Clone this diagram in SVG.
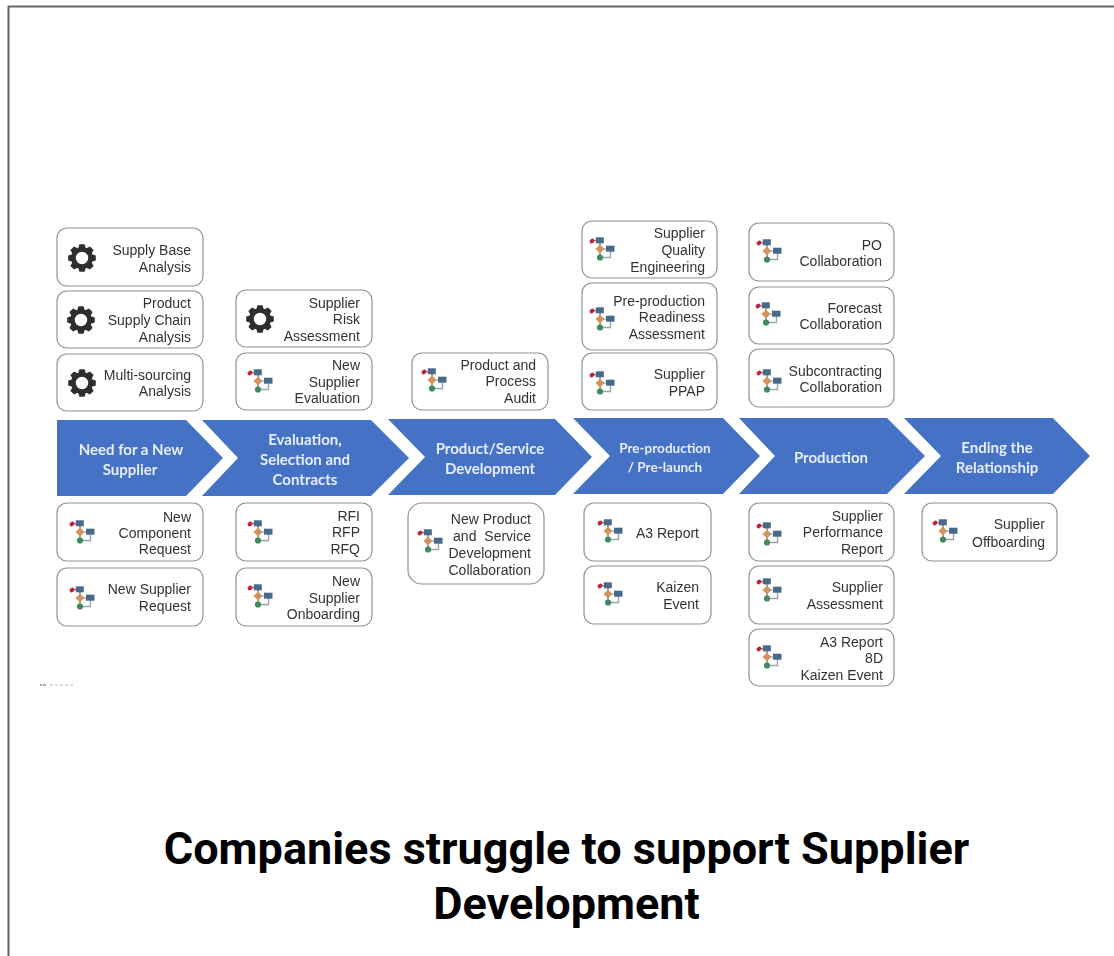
<svg xmlns="http://www.w3.org/2000/svg" width="1114" height="956" viewBox="0 0 1114 956">
<style>
.box{fill:#fff;stroke:#929292;stroke-width:1.2}
.t{font-family:"Liberation Sans",Arial,sans-serif;font-size:14px;fill:#333;text-anchor:end}
.chev{fill:#4472c4}
.a{font-family:Lato,"Open Sans",sans-serif;font-weight:700;font-size:15px;fill:#e6edf8;text-anchor:middle}
.title{font-family:Roboto,sans-serif;font-weight:700;font-size:45px;fill:#000;text-anchor:middle}
</style>
<defs>
<filter id="soft" x="-5%" y="-5%" width="110%" height="110%"><feGaussianBlur stdDeviation="0.45"/></filter>
<g id="gear" fill="#2e2e2e">
<circle r="8.500" fill="none" stroke="#2e2e2e" stroke-width="4.600"/>
<path id="tooth" d="M-3.800-9.500L-2.600-13.800H2.600L3.800-9.500Z"/>
<path d="M-3.800-9.500L-2.600-13.800H2.600L3.800-9.500Z" transform="rotate(45)"/>
<path d="M-3.800-9.500L-2.600-13.800H2.600L3.800-9.500Z" transform="rotate(90)"/>
<path d="M-3.800-9.500L-2.600-13.800H2.600L3.800-9.500Z" transform="rotate(135)"/>
<path d="M-3.800-9.500L-2.600-13.800H2.600L3.800-9.500Z" transform="rotate(180)"/>
<path d="M-3.800-9.500L-2.600-13.800H2.600L3.800-9.500Z" transform="rotate(225)"/>
<path d="M-3.800-9.500L-2.600-13.800H2.600L3.800-9.500Z" transform="rotate(270)"/>
<path d="M-3.800-9.500L-2.600-13.800H2.600L3.800-9.500Z" transform="rotate(315)"/>
</g>
<g id="flow">
<path d="M0-8V8" fill="none" stroke="#a08a6a" stroke-width="1.600"/>
<path d="M3 8.500H10.500V2" fill="none" stroke="#9aa5ad" stroke-width="1.400"/>
<path d="M-8-8L-3-8.500" stroke="#c9404a" stroke-width="1.200"/>
<ellipse cx="-8" cy="-8" rx="2.600" ry="2.100" fill="#b8283a" transform="rotate(-35 -8 -8)"/>
<rect x="-4.200" y="-11.700" width="8" height="6" fill="#47698a"/>
<path d="M0-4.300L4.600 0 0 4.300-4.600 0Z" fill="#d2935c"/>
<path d="M3 0H7" stroke="#9aa5ad" stroke-width="1.200"/>
<rect x="6" y="-3.300" width="8.500" height="6" fill="#47698a"/>
<circle cx="0" cy="8.500" r="3.100" fill="#3f8a5f"/>
</g>
</defs>
<rect width="1114" height="956" fill="#fff"/>
<path id="frame" d="M1114 6.500H8.500V956" fill="none" stroke="#666" stroke-width="2"/>
<g id="connectors"/>
<g filter="url(#soft)">
<g id="stage1"><path class="chev" d="M57 420H186L223 458 186 496H57Z"/><text class="a" x="131" y="455">Need for a New</text><text class="a" x="130" y="475">Supplier</text></g>
<g id="stage2"><path class="chev" d="M202 420H371L409 458 371 496H202L238 458Z"/><text class="a" x="305" y="445">Evaluation,</text><text class="a" x="305" y="465">Selection and</text><text class="a" x="305" y="485">Contracts</text></g>
<g id="stage3"><path class="chev" d="M388 419H555L592 457 555 495H388L425 457Z"/><text class="a" x="490" y="454">Product/Service</text><text class="a" x="490" y="474">Development</text></g>
<g id="stage4"><path class="chev" d="M573 418H723L760 456 723 494H573L610 456Z"/><text class="a" x="665" y="453" style="font-size:13.500px">Pre-production</text><text class="a" x="665" y="472" style="font-size:13.500px">/ Pre-launch</text></g>
<g id="stage5"><path class="chev" d="M739 418H887L925 456 887 494H739L775 456Z"/><text class="a" x="831" y="463">Production</text></g>
<g id="stage6"><path class="chev" d="M904 418H1053L1090 456 1053 494H904L941 456Z"/><text class="a" x="997" y="453">Ending the</text><text class="a" x="997" y="473">Relationship</text></g>

<g id="n1"><rect class="box" x="57" y="228" width="146" height="58" rx="10"/><use href="#gear" x="82" y="258"/><text class="t" x="191" y="255">Supply Base</text><text class="t" x="191" y="272">Analysis</text></g>
<g id="n2"><rect class="box" x="57" y="291" width="146" height="57" rx="10"/><use href="#gear" x="81" y="320"/><text class="t" x="191" y="308">Product</text><text class="t" x="191" y="325">Supply Chain</text><text class="t" x="191" y="342">Analysis</text></g>
<g id="n3"><rect class="box" x="57" y="354" width="146" height="57" rx="10"/><use href="#gear" x="82" y="383"/><text class="t" x="191" y="380">Multi-sourcing</text><text class="t" x="191" y="396">Analysis</text></g>
<g id="n4"><rect class="box" x="236" y="290" width="136" height="57" rx="10"/><use href="#gear" x="260" y="319"/><text class="t" x="360" y="308">Supplier</text><text class="t" x="360" y="324">Risk</text><text class="t" x="360" y="341">Assessment</text></g>
<g id="n5"><rect class="box" x="236" y="353" width="136" height="57" rx="10"/><use href="#flow" x="258" y="381"/><text class="t" x="360" y="370">New</text><text class="t" x="360" y="387">Supplier</text><text class="t" x="360" y="403">Evaluation</text></g>
<g id="n6"><rect class="box" x="412" y="353" width="136" height="57" rx="10"/><use href="#flow" x="432" y="380"/><text class="t" x="536" y="370">Product and</text><text class="t" x="536" y="386">Process</text><text class="t" x="536" y="403">Audit</text></g>
<g id="n7"><rect class="box" x="582" y="221" width="135" height="57" rx="10"/><use href="#flow" x="600" y="249"/><text class="t" x="705" y="238">Supplier</text><text class="t" x="705" y="255">Quality</text><text class="t" x="705" y="272">Engineering</text></g>
<g id="n8"><rect class="box" x="582" y="283" width="135" height="67" rx="10"/><use href="#flow" x="600" y="319"/><text class="t" x="705" y="306">Pre-production</text><text class="t" x="705" y="322">Readiness</text><text class="t" x="705" y="339">Assessment</text></g>
<g id="n9"><rect class="box" x="582" y="353" width="135" height="57" rx="10"/><use href="#flow" x="600" y="383"/><text class="t" x="705" y="379">Supplier</text><text class="t" x="705" y="396">PPAP</text></g>
<g id="n10"><rect class="box" x="749" y="223" width="145" height="58" rx="10"/><use href="#flow" x="767" y="251"/><text class="t" x="882" y="250">PO</text><text class="t" x="882" y="266">Collaboration</text></g>
<g id="n11"><rect class="box" x="749" y="287" width="145" height="57" rx="10"/><use href="#flow" x="766" y="314"/><text class="t" x="882" y="313">Forecast</text><text class="t" x="882" y="329">Collaboration</text></g>
<g id="n12"><rect class="box" x="749" y="349" width="145" height="58" rx="10"/><use href="#flow" x="767" y="381"/><text class="t" x="882" y="376">Subcontracting</text><text class="t" x="882" y="392">Collaboration</text></g>

<g id="n13"><rect class="box" x="57" y="503" width="146" height="58" rx="10"/><use href="#flow" x="80" y="532"/><text class="t" x="191" y="522">New</text><text class="t" x="191" y="538">Component</text><text class="t" x="191" y="554">Request</text></g>
<g id="n14"><rect class="box" x="57" y="568" width="146" height="58" rx="10"/><use href="#flow" x="80" y="598"/><text class="t" x="191" y="594">New Supplier</text><text class="t" x="191" y="611">Request</text></g>
<g id="n15"><rect class="box" x="236" y="503" width="136" height="58" rx="10"/><use href="#flow" x="258" y="532"/><text class="t" x="360" y="521">RFI</text><text class="t" x="360" y="537">RFP</text><text class="t" x="360" y="554">RFQ</text></g>
<g id="n16"><rect class="box" x="236" y="568" width="136" height="58" rx="10"/><use href="#flow" x="258" y="596"/><text class="t" x="360" y="586">New</text><text class="t" x="360" y="603">Supplier</text><text class="t" x="360" y="619">Onboarding</text></g>
<g id="n17"><rect class="box" x="408" y="503" width="136" height="81" rx="14"/><use href="#flow" x="428" y="541"/><text class="t" x="531" y="524">New Product</text><text class="t" x="531" y="541" word-spacing="4">and Service</text><text class="t" x="531" y="558">Development</text><text class="t" x="531" y="575">Collaboration</text></g>
<g id="n18"><rect class="box" x="584" y="503" width="127" height="58" rx="10"/><use href="#flow" x="608" y="531"/><text class="t" x="699" y="538">A3 Report</text></g>
<g id="n19"><rect class="box" x="584" y="566" width="127" height="58" rx="10"/><use href="#flow" x="608" y="594"/><text class="t" x="699" y="592">Kaizen</text><text class="t" x="699" y="609">Event</text></g>
<g id="n20"><rect class="box" x="749" y="503" width="145" height="58" rx="10"/><use href="#flow" x="767" y="534"/><text class="t" x="883" y="521">Supplier</text><text class="t" x="883" y="537">Performance</text><text class="t" x="883" y="554">Report</text></g>
<g id="n21"><rect class="box" x="749" y="566" width="145" height="58" rx="10"/><use href="#flow" x="767" y="590"/><text class="t" x="883" y="592">Supplier</text><text class="t" x="883" y="609">Assessment</text></g>
<g id="n22"><rect class="box" x="749" y="629" width="145" height="57" rx="10"/><use href="#flow" x="767" y="657"/><text class="t" x="883" y="647">A3 Report</text><text class="t" x="883" y="663">8D</text><text class="t" x="883" y="680">Kaizen Event</text></g>
<g id="n23"><rect class="box" x="922" y="503" width="135" height="58" rx="10"/><use href="#flow" x="943" y="531"/><text class="t" x="1045" y="529">Supplier</text><text class="t" x="1045" y="547">Offboarding</text></g>
<path id="specks" d="M40 685h2M43 685h3" stroke="#555" stroke-width="1.200" fill="none"/>
<path id="specks2" d="M50 685h25" stroke="#bbb" stroke-width="1" stroke-dasharray="3 2" fill="none"/>
</g>
<g id="caption"><text class="title" x="566.500" y="864">Companies struggle to support Supplier</text><text class="title" x="566.500" y="919">Development</text></g>
</svg>
